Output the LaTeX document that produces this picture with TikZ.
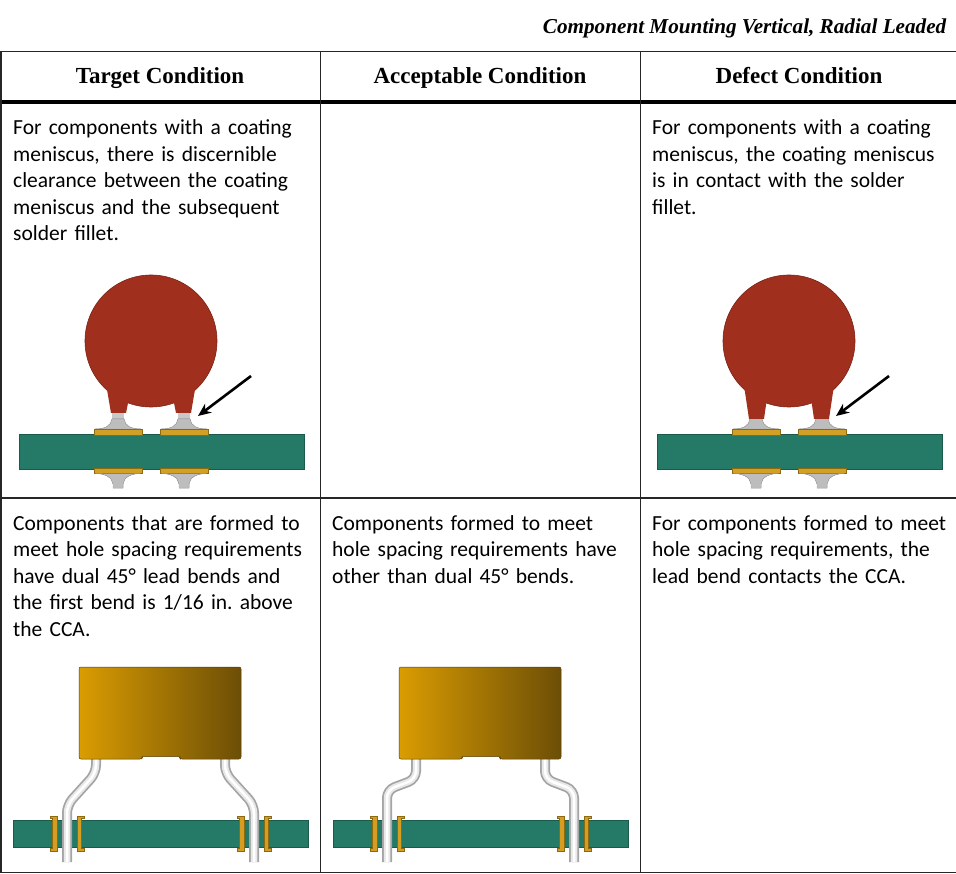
\documentclass[tikz,border=0pt]{standalone}
\usepackage{fontspec}
\setmainfont{Carlito}
\newfontfamily\headfont{Liberation Serif}
\usetikzlibrary{arrows.meta}
\frenchspacing

\definecolor{coatred}{HTML}{A02F1E}
\definecolor{boardgreen}{HTML}{247A66}
\definecolor{boardedge}{HTML}{1A5A4B}
\definecolor{padgold}{HTML}{D2A024}
\definecolor{padedge}{HTML}{8C6A12}
\definecolor{bodylight}{HTML}{DA9C02}
\definecolor{bodydark}{HTML}{6C4E06}
\definecolor{leadgrey}{HTML}{A4A4A4}
\definecolor{soldergrey}{HTML}{BDBDBD}

\tikzset{
  cell/.style={anchor=base west, text width=305pt, align=left, inner sep=0pt,
    font=\fontsize{21.5}{26.5}\selectfont},
  head/.style={anchor=base, inner sep=0pt, font=\headfont\bfseries\fontsize{23}{26}\selectfont},
  rule/.style={line width=1.3pt, black!85},
  board/.style={fill=boardgreen, draw=boardedge, line width=0.8pt},
  pad/.style={fill=padgold, draw=padedge, line width=0.6pt},
  fillet/.style={left color=soldergrey, middle color=white, right color=soldergrey, draw=gray!70, line width=0.4pt},
  barrel/.style={fill=padgold!90!orange, draw=padedge, line width=0.5pt},
  pointer/.style={line width=2.6pt, -{Stealth[length=13pt,width=11pt]}},
}

\begin{document}
\begin{tikzpicture}[x=1pt,y=-1pt]
\useasboundingbox (0,0) rectangle (956,874);

% title above the table
\node[anchor=base east, inner sep=0pt, font=\headfont\bfseries\itshape\fontsize{21.2}{24}\selectfont]
  (title) at (946.5,33.3) {Component Mounting Vertical, Radial Leaded};

% table rules
\draw[rule] (0,51.5) -- (956,51.5);
\draw[line width=4pt] (0,102) -- (956,102);
\draw[rule] (0,498) -- (956,498);
\draw[rule] (0,872.5) -- (956,872.5);
\foreach \x in {1,320.5,640.5}
  \draw[rule] (\x,51.5) -- (\x,872.5);

% column heads
\node[head] (target) at (160,83.3) {Target Condition};
\node[head] (accept) at (480,83.3) {Acceptable Condition};
\node[head] (defect) at (799,83.3) {Defect Condition};

% cell texts
\node[cell] (tgt-text) at (13,135) {For components with a coating\\ meniscus, there is discernible\\ clearance between the coating\\ meniscus and the subsequent\\ solder fillet.};
\node[cell] (def-text) at (652,135) {For components with a coating\\ meniscus, the coating meniscus\\ is in contact with the solder\\ fillet.};
\node[cell] (tgt-form) at (13,530) {Components that are formed to\\ meet hole spacing requirements\\ have dual 45° lead bends and\\ the first bend is 1/16 in. above\\ the CCA.};
\node[cell] (acc-form) at (332,530) {Components formed to meet\\ hole spacing requirements have\\ other than dual 45° bends.};
\node[cell] (def-form) at (652,530) {For components formed to meet\\ hole spacing requirements, the\\ lead bend contacts the CCA.};

% coated disc parts on the board
\foreach \cx/\legy/\p in {151/413/tgt, 789/419/def} {
  \draw[board] (\cx-132,434) rectangle (\cx+153,469);
  \foreach \dx in {-33,33} {
    \pgfmathsetmacro\lx{\cx+\dx}
    \fill[leadgrey!60] (\lx-6,408) rectangle (\lx+6,420);
    \fill[fillet] (\lx-6,419) -- (\lx+6,419) .. controls (\lx+7,426) and (\lx+13,429) .. (\lx+23,429)
      -- (\lx-23,429) .. controls (\lx-13,429) and (\lx-7,426) .. (\lx-6,419) -- cycle;
    \draw[pad] (\lx-24,429) rectangle (\lx+24,435);
    \draw[pad] (\lx-24,468) rectangle (\lx+24,473.5);
    \fill[fillet] (\lx-23,473.5) .. controls (\lx-13,473.5) and (\lx-6,477) .. (\lx-5,484)
      -- (\lx-5,488) -- (\lx+5,488) -- (\lx+5,484) .. controls (\lx+6,477) and (\lx+13,473.5) .. (\lx+23,473.5) -- cycle;
  }
  \fill[coatred, draw=coatred!75!black, line width=0.6pt] (\cx,341) circle (66);
  \fill[coatred] (\cx-47,372) -- (\cx-40,\legy) -- (\cx-25,\legy) -- (\cx-22,398) -- (\cx-22,385) -- cycle;
  \fill[coatred] (\cx+47,372) -- (\cx+40,\legy) -- (\cx+25,\legy) -- (\cx+22,398) -- (\cx+22,385) -- cycle;
  \coordinate (\p-tail) at (\cx+100,376);
  \coordinate (\p-tip) at (\cx+47,416);
  \draw[pointer] (\p-tail) -- (\p-tip);
}

% formed parts through the board
\foreach \ox/\ya/\yb in {0/773/805, 320/779/790} {
  \draw[board] (\ox+13,820) rectangle (\ox+308,847);
  \foreach \bx in {67,254} {
    \draw[barrel] (\ox+\bx-17,816) -- (\ox+\bx-10,816) -- (\ox+\bx-10,851) -- (\ox+\bx-17,851)
      -- (\ox+\bx-17,848.5) -- (\ox+\bx-14.5,848.5) -- (\ox+\bx-14.5,818.5) -- (\ox+\bx-17,818.5) -- cycle;
    \draw[barrel] (\ox+\bx+17,816) -- (\ox+\bx+10,816) -- (\ox+\bx+10,851) -- (\ox+\bx+17,851)
      -- (\ox+\bx+17,848.5) -- (\ox+\bx+14.5,848.5) -- (\ox+\bx+14.5,818.5) -- (\ox+\bx+17,818.5) -- cycle;
  }
  \foreach \w/\c in {10/leadgrey, 6.5/gray!18, 2.5/white} {
    \draw[line width=\w pt, \c, rounded corners=8pt] (\ox+96,755) -- (\ox+96,\ya) -- (\ox+67,\yb) -- (\ox+67,862);
    \draw[line width=\w pt, \c, rounded corners=8pt] (\ox+225,755) -- (\ox+225,\ya) -- (\ox+254,\yb) -- (\ox+254,862);
  }
  \path[draw=bodydark!80!black, line width=0.5pt, left color=bodylight, right color=bodydark, rounded corners=2pt]
    (\ox+79,667) -- (\ox+241,667) -- (\ox+241,759) -- (\ox+180,759) -- (\ox+180,756.5)
    -- (\ox+142,756.5) -- (\ox+142,759) -- (\ox+79,759) -- cycle;
}
\end{tikzpicture}
\end{document}
